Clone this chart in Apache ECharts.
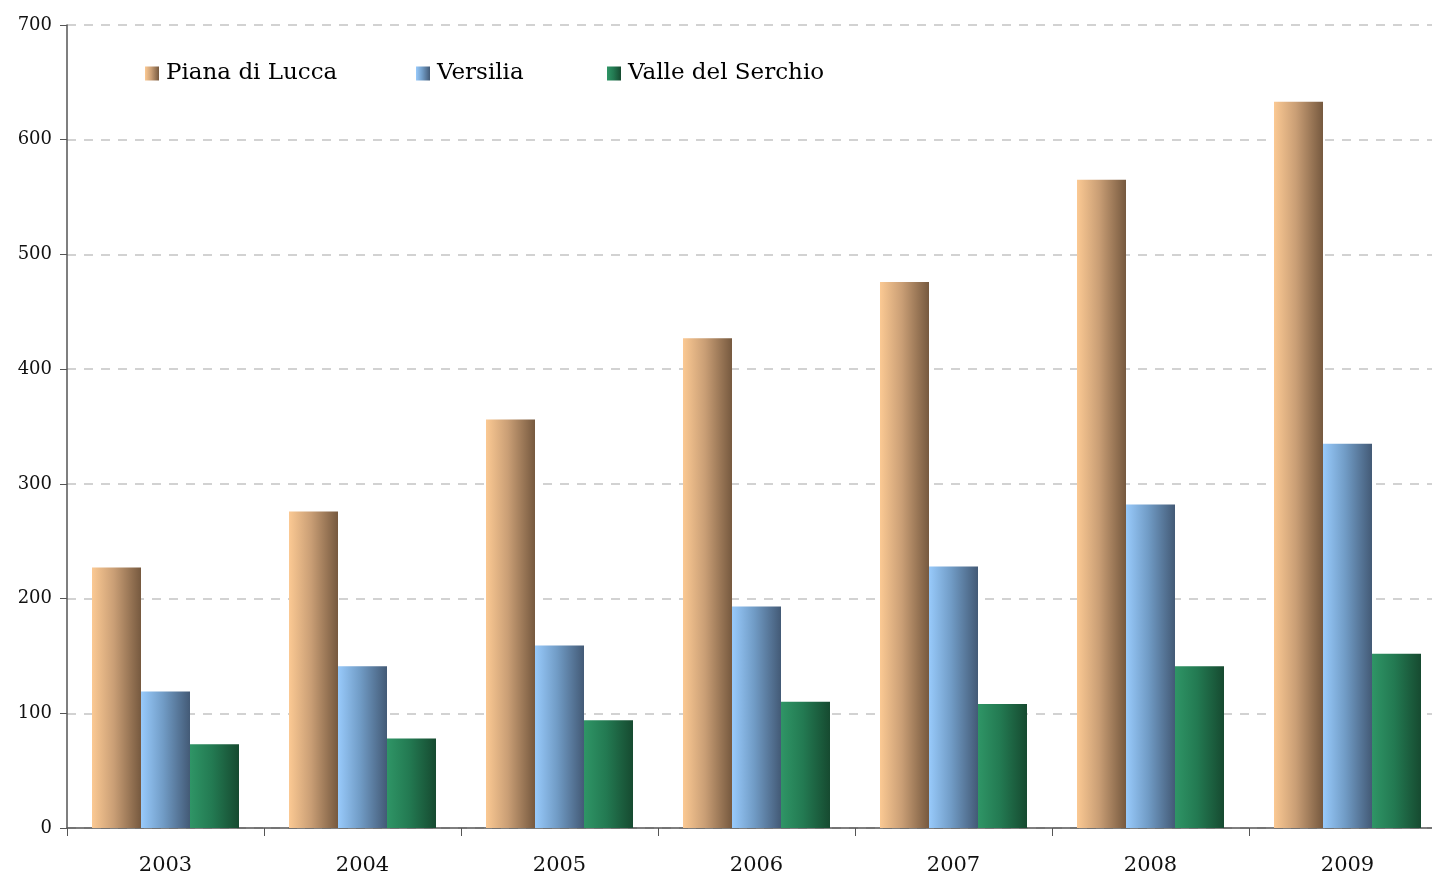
<!DOCTYPE html>
<html>
<head>
<meta charset="utf-8">
<script src="https://cdn.jsdelivr.net/npm/echarts@6/dist/echarts.min.js"></script>
<style>
  html, body { margin: 0; padding: 0; background: #fff; overflow: hidden; }
  #chart { width: 1446px; height: 876px; }
</style>
</head>
<body>
<div id="chart"></div>
<script>
// data
var years = ['2003', '2004', '2005', '2006', '2007', '2008', '2009'];
var pianaDiLucca = [227, 276, 356, 427, 476, 565, 633];
var versilia = [119, 141, 159, 193, 228, 282, 335];
var valleDelSerchio = [73, 78, 94, 110, 108, 141, 152];
var yTicks = [0, 100, 200, 300, 400, 500, 600, 700];

var theChart = echarts.init(document.getElementById('chart'));

function hGradient(from, mid, to) {
  return new echarts.graphic.LinearGradient(0, 0, 1, 0, [
    { offset: 0, color: from },
    { offset: 0.45, color: mid },
    { offset: 1, color: to }
  ]);
}

var fontFam = '"DejaVu Serif", "Liberation Serif", serif';
var colPiana = hGradient('#fbc993', '#c99e75', '#76593f');
var colVers = hGradient('#98cafb', '#719cc6', '#435a76');
var colValle = hGradient('#2f9566', '#237a52', '#164a30');

function legendAt(left, name) {
  return {
    left: left, top: 57,
    data: [name],
    icon: 'rect', itemWidth: 14, itemHeight: 14, itemGap: 0,
    selectedMode: false,
    textStyle: { fontFamily: fontFam, fontSize: 23, color: '#000', padding: [0, 0, 0, 2] }
  };
}

var option = {
  animation: false,
  backgroundColor: '#fff',
  legend: [
    legendAt(140, 'Piana di Lucca'),
    legendAt(411, 'Versilia'),
    legendAt(602, 'Valle del Serchio')
  ],
  grid: { left: 67, top: 25, width: 1379, height: 803, containLabel: false },
  xAxis: {
    type: 'category',
    data: years,
    axisLine: { show: true, lineStyle: { color: '#555', width: 1.5 } },
    axisTick: { show: true, length: 8, lineStyle: { color: '#555' } },
    axisLabel: { fontFamily: fontFam, fontSize: 21, color: '#111', margin: 27 }
  },
  yAxis: {
    type: 'value',
    min: 0, max: yTicks[yTicks.length - 1], interval: 100,
    axisLine: { show: true, lineStyle: { color: '#555', width: 1.5 } },
    axisTick: { show: true, length: 7, lineStyle: { color: '#555' } },
    axisLabel: { fontFamily: fontFam, fontSize: 18, color: '#111', margin: 15,
                 verticalAlign: 'middle', padding: [0, 0, 9, 0] },
    splitLine: { show: true, lineStyle: { color: '#c4c4c4', type: [9, 8], width: 1.5 } }
  },
  series: [
    { name: 'Piana di Lucca', type: 'bar', data: pianaDiLucca, barWidth: 49, barGap: '0%',
      itemStyle: { color: colPiana } },
    { name: 'Versilia', type: 'bar', data: versilia, barWidth: 49, barGap: '0%',
      itemStyle: { color: colVers } },
    { name: 'Valle del Serchio', type: 'bar', data: valleDelSerchio, barWidth: 49, barGap: '0%',
      itemStyle: { color: colValle } }
  ]
};
theChart.setOption(option);
</script>
</body>
</html>
